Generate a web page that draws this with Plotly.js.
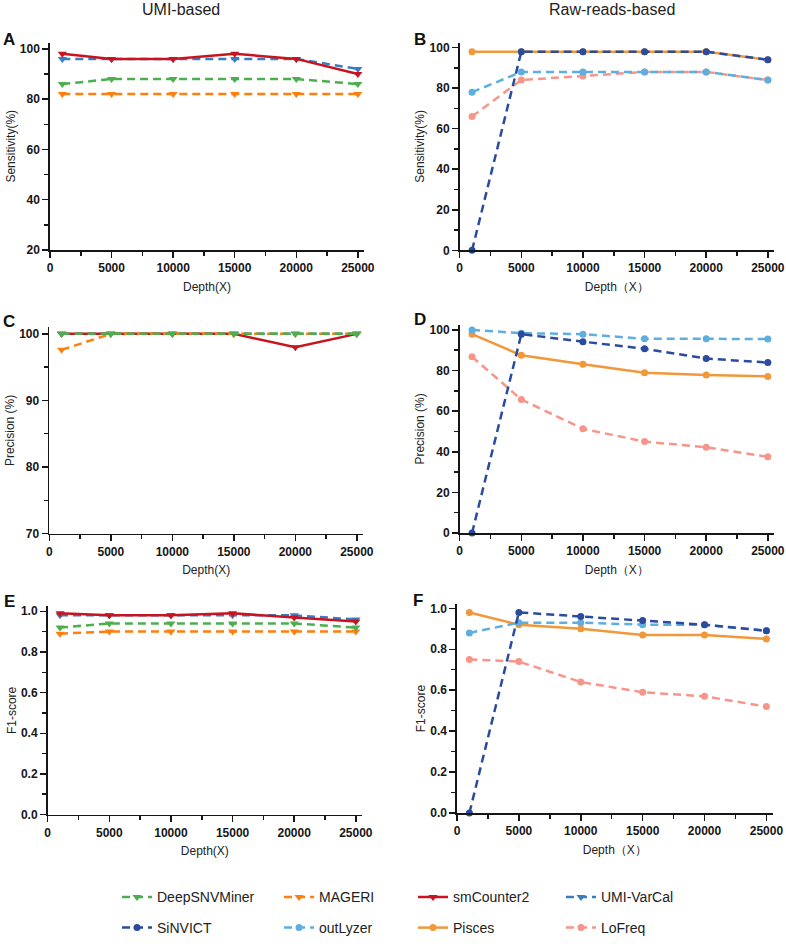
<!DOCTYPE html>
<html><head><meta charset="utf-8">
<script src="https://cdn.plot.ly/plotly-3.0.1.min.js"></script>
<style>html,body{margin:0;padding:0;background:#fff}#chart{width:786px;height:944px}</style>
</head><body><div id="chart"></div>
<script>
// ---------------- DATA ----------------
const depth = [1000, 5000, 10000, 15000, 20000, 25000];
const umiTools = ['DeepSNVMiner', 'MAGERI', 'smCounter2', 'UMI-VarCal'];
const rawTools = ['SiNVICT', 'outLyzer', 'Pisces', 'LoFreq'];
const columnTitles = ['UMI-based', 'Raw-reads-based'];
const panelLetters = ['A', 'B', 'C', 'D', 'E', 'F'];

// Sensitivity (%)
const sensDeepSNVMiner = [86, 88, 88, 88, 88, 86];
const sensMAGERI       = [82, 82, 82, 82, 82, 82];
const sensSmCounter2   = [98, 96, 96, 98, 96, 90];
const sensUMIVarCal    = [96, 96, 96, 96, 96, 92];
const sensSiNVICT      = [0, 98, 98, 98, 98, 94];
const sensOutLyzer     = [78, 88, 88, 88, 88, 84];
const sensPisces       = [98, 98, 98, 98, 98, 94];
const sensLoFreq       = [66, 84, 86, 88, 88, 84];

// Precision (%)
const precDeepSNVMiner = [100, 100, 100, 100, 100, 100];
const precMAGERI       = [97.6, 100, 100, 100, 100, 100];
const precSmCounter2   = [100, 100, 100, 100, 98, 100];
const precUMIVarCal    = [100, 100, 100, 100, 100, 100];
const precSiNVICT      = [0, 97.9, 94.2, 90.7, 85.9, 83.9];
const precOutLyzer     = [100, 98.4, 97.9, 95.6, 95.6, 95.5];
const precPisces       = [97.9, 87.5, 83.1, 78.9, 77.8, 77.1];
const precLoFreq       = [86.8, 65.7, 51.3, 45.0, 42.2, 37.5];

// F1-score
const f1DeepSNVMiner = [0.92, 0.94, 0.94, 0.94, 0.94, 0.92];
const f1MAGERI       = [0.89, 0.90, 0.90, 0.90, 0.90, 0.90];
const f1SmCounter2   = [0.99, 0.98, 0.98, 0.99, 0.97, 0.95];
const f1UMIVarCal    = [0.98, 0.98, 0.98, 0.98, 0.98, 0.96];
const f1SiNVICT      = [0, 0.98, 0.96, 0.94, 0.92, 0.89];
const f1OutLyzer     = [0.88, 0.93, 0.93, 0.92, 0.92, 0.89];
const f1Pisces       = [0.98, 0.92, 0.90, 0.87, 0.87, 0.85];
const f1LoFreq       = [0.75, 0.74, 0.64, 0.59, 0.57, 0.52];

// ---------------- STYLE / LAYOUT ----------------
const W = 786, H = 944;
const fx = px => px / W;
const fy = py => 1 - py / H;
const FONT = 'Liberation Sans, Arial, Helvetica, sans-serif';
const INK = '#161616';

const DASH = '8px,5px';
const styles = {
  'DeepSNVMiner': {color: '#4caf4f', dash: DASH, symbol: 'triangle-down', size: 8},
  'MAGERI':       {color: '#ff7f0e', dash: DASH, symbol: 'triangle-down', size: 8},
  'smCounter2':   {color: '#c8141f', dash: 'solid', symbol: 'triangle-down', size: 8},
  'UMI-VarCal':   {color: '#3a7dbf', dash: DASH, symbol: 'triangle-down', size: 8},
  'SiNVICT':      {color: '#2a4b9e', dash: DASH, symbol: 'circle', size: 7},
  'outLyzer':     {color: '#5eaee0', dash: DASH, symbol: 'circle', size: 7},
  'Pisces':       {color: '#f0983a', dash: 'solid', symbol: 'circle', size: 7},
  'LoFreq':       {color: '#f7958b', dash: DASH, symbol: 'circle', size: 7}
};
const legendKey = {
  'DeepSNVMiner': 'legend', 'MAGERI': 'legend2', 'smCounter2': 'legend3', 'UMI-VarCal': 'legend4',
  'SiNVICT': 'legend5', 'outLyzer': 'legend6', 'Pisces': 'legend7', 'LoFreq': 'legend8'
};
const umiDrawOrder = ['UMI-VarCal', 'smCounter2', 'MAGERI', 'DeepSNVMiner'];
const rawDrawOrder = ['Pisces', 'LoFreq', 'outLyzer', 'SiNVICT'];

const panels = [
  {xa: 'x',  ya: 'y',  order: umiDrawOrder, showLegend: true,
   data: {'DeepSNVMiner': sensDeepSNVMiner, 'MAGERI': sensMAGERI, 'smCounter2': sensSmCounter2, 'UMI-VarCal': sensUMIVarCal}},
  {xa: 'x2', ya: 'y2', order: rawDrawOrder, showLegend: true,
   data: {'SiNVICT': sensSiNVICT, 'outLyzer': sensOutLyzer, 'Pisces': sensPisces, 'LoFreq': sensLoFreq}},
  {xa: 'x3', ya: 'y3', order: umiDrawOrder, showLegend: false,
   data: {'DeepSNVMiner': precDeepSNVMiner, 'MAGERI': precMAGERI, 'smCounter2': precSmCounter2, 'UMI-VarCal': precUMIVarCal}},
  {xa: 'x4', ya: 'y4', order: rawDrawOrder, showLegend: false,
   data: {'SiNVICT': precSiNVICT, 'outLyzer': precOutLyzer, 'Pisces': precPisces, 'LoFreq': precLoFreq}},
  {xa: 'x5', ya: 'y5', order: umiDrawOrder, showLegend: false,
   data: {'DeepSNVMiner': f1DeepSNVMiner, 'MAGERI': f1MAGERI, 'smCounter2': f1SmCounter2, 'UMI-VarCal': f1UMIVarCal}},
  {xa: 'x6', ya: 'y6', order: rawDrawOrder, showLegend: false,
   data: {'SiNVICT': f1SiNVICT, 'outLyzer': f1OutLyzer, 'Pisces': f1Pisces, 'LoFreq': f1LoFreq}}
];

const traces = [];
panels.forEach(p => {
  p.order.forEach(name => {
    const s = styles[name];
    traces.push({
      type: 'scatter', mode: 'lines+markers', name: name,
      x: depth, y: p.data[name], xaxis: p.xa, yaxis: p.ya,
      line: {color: s.color, width: 2.5, dash: s.dash},
      marker: {color: s.color, symbol: s.symbol, size: s.size},
      showlegend: p.showLegend, legend: legendKey[name], legendgroup: name,
      cliponaxis: false
    });
  });
});

const tickFont = {family: FONT, size: 12, color: INK, weight: 'bold'};
const titleFont = {family: FONT, size: 12, color: '#222'};

function xAxis(x0, x1, anchor, title) {
  return {
    domain: [fx(x0), fx(x1)], anchor: anchor, range: [0, 25500],
    tick0: 0, dtick: 5000, tickformat: 'd', ticks: 'outside', ticklen: 6, tickwidth: 1.5, tickcolor: INK,
    minor: {dtick: 2500, ticks: 'outside', ticklen: 4, tickwidth: 1.5, tickcolor: INK, showgrid: false},
    showline: true, linewidth: 1.7, linecolor: INK, showgrid: false, zeroline: false,
    tickfont: tickFont, automargin: false, fixedrange: true,
    title: {text: title, font: titleFont, standoff: 8}
  };
}
function yAxis(y0, y1, anchor, range, dtick, minorDtick, title, fmt) {
  return {
    domain: [fy(y1), fy(y0)], anchor: anchor, range: range,
    tick0: 0, dtick: dtick, ticks: 'outside', ticklen: 6, tickwidth: 1.5, tickcolor: INK,
    minor: {dtick: minorDtick, ticks: 'outside', ticklen: 4, tickwidth: 1.5, tickcolor: INK, showgrid: false},
    showline: true, linewidth: 1.7, linecolor: INK, showgrid: false, zeroline: false,
    tickfont: tickFont, automargin: false, fixedrange: true, tickformat: fmt || 'd',
    title: {text: title, font: titleFont, standoff: 2}
  };
}

const layout = {
  width: W, height: H,
  margin: {l: 0, r: 0, t: 0, b: 0, pad: 0},
  paper_bgcolor: '#fff', plot_bgcolor: 'rgba(0,0,0,0)',
  font: {family: FONT, color: INK},
  xaxis:  xAxis(50, 364, 'y', 'Depth(X)'),
  yaxis:  yAxis(43, 252.7, 'x', [20, 102.5], 20, 10, 'Sensitivity(%)'),
  xaxis2: xAxis(459.7, 774, 'y2', 'Depth（X）'),
  yaxis2: yAxis(43, 253, 'x2', [0, 102.5], 20, 10, 'Sensitivity(%)'),
  xaxis3: xAxis(49.3, 363, 'y3', 'Depth(X)'),
  yaxis3: yAxis(330.7, 539.3, 'x3', [70, 101], 10, 5, 'Precision (%)'),
  xaxis4: xAxis(459.7, 774, 'y4', 'Depth（X）'),
  yaxis4: yAxis(328.3, 538.7, 'x4', [0, 102.5], 20, 10, 'Precision (%)'),
  xaxis5: xAxis(47.7, 362, 'y5', 'Depth(X)'),
  yaxis5: yAxis(612.7, 823.3, 'x5', [0, 1.025], 0.2, 0.1, 'F1-score', '.1f'),
  xaxis6: xAxis(457, 772.6, 'y6', 'Depth（X）'),
  yaxis6: yAxis(610.7, 821.7, 'x6', [0, 1.02], 0.2, 0.1, 'F1-score', '.1f'),
  annotations: [],
  showlegend: true
};

// Column titles
[[181, 10], [612, 10]].forEach((pos, i) => {
  layout.annotations.push({text: columnTitles[i], xref: 'paper', yref: 'paper',
    x: fx(pos[0]), y: fy(pos[1]), xanchor: 'center', yanchor: 'middle', showarrow: false,
    font: {family: FONT, size: 16, color: '#222'}});
});
// Panel letters
[[9, 40], [420, 40], [9, 325], [420, 323], [9, 608], [418, 607]].forEach((pos, i) => {
  layout.annotations.push({text: '<b>' + panelLetters[i] + '</b>', xref: 'paper', yref: 'paper',
    x: fx(pos[0]), y: fy(pos[1]), xanchor: 'center', yanchor: 'middle', showarrow: false,
    font: {family: FONT, size: 17, color: '#111'}});
});

// Legends: 4 columns x 2 rows
const legendCols = [133, 295, 429, 577];
const legendRows = [907, 938];
[...umiTools, ...rawTools].forEach((name, i) => {
  const col = i % 4, row = Math.floor(i / 4);
  layout[legendKey[name]] = {
    x: fx(legendCols[col] - 16), y: fy(legendRows[row]), xref: 'paper', yref: 'paper',
    xanchor: 'left', yanchor: 'middle', orientation: 'v',
    bgcolor: 'rgba(0,0,0,0)', borderwidth: 0, itemwidth: 30,
    font: {family: FONT, size: 14, color: '#222'}
  };
});

Plotly.newPlot('chart', traces, layout, {staticPlot: true, displayModeBar: false});
</script>
</body></html>
